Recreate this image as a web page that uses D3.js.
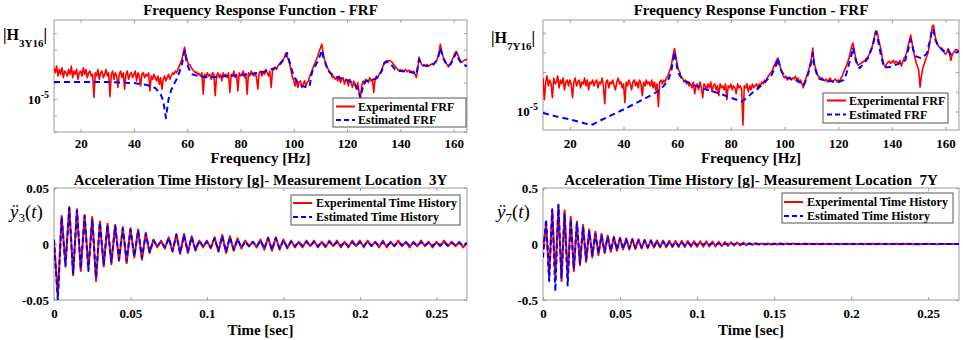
<!DOCTYPE html>
<html>
<head>
<meta charset="utf-8">
<script src="https://cdn.jsdelivr.net/npm/d3@7"></script>
<style>
  body { margin: 0; background: #fff; }
  text { font-family: "Liberation Serif", "Times New Roman", serif; }
</style>
</head>
<body>
<script>
// ---------------- data ----------------
// FRF sampled every 0.5 Hz from 10 to 165 Hz, values stored as log10|H|
const frfFreq = d3.range(10, 165.25, 0.5);

const h3y16Exp = [
  -3.1,-3.4,-3.0,-3.6,-3.2,-3.5,-3.1,-3.7,-3.3,-3.4,
  -3.6,-3.2,-3.5,-3.0,-3.7,-3.3,-3.5,-3.2,-3.8,-3.4,
  -3.3,-3.6,-3.1,-3.5,-3.2,-3.7,-3.4,-3.3,-3.6,-3.5,
  -4.9,-3.4,-3.6,-3.2,-3.8,-3.4,-3.3,-3.7,-3.5,-3.2,
  -3.6,-3.4,-4.85,-3.5,-3.3,-3.8,-3.4,-3.6,-4.3,-3.5,
  -3.3,-3.7,-3.4,-4.4,-3.5,-3.3,-3.8,-3.5,-3.4,-3.7,
  -3.5,-3.3,-3.9,-3.4,-3.6,-4.2,-3.5,-3.4,-3.7,-3.5,
  -3.6,-3.4,-4.5,-3.6,-3.8,-3.5,-3.7,-3.9,-3.6,-4.1,
  -3.7,-4.4,-3.8,-3.6,-3.9,-3.7,-3.5,-3.8,-3.6,-3.4,
  -3.5,-3.3,-3.4,-3.2,-3.0,-2.8,-2.6,-2.2,-1.85,-2.3,
  -2.65,-2.9,-2.9,-3.1,-3.2,-3.3,-3.4,-3.35,-3.5,-3.45,
  -3.6,-3.4,-4.7,-3.5,-3.7,-3.4,-3.6,-3.5,-3.8,-3.4,
  -3.5,-4.8,-3.6,-3.4,-3.7,-3.5,-3.9,-3.4,-3.6,-3.5,
  -3.7,-3.4,-4.6,-3.5,-3.6,-3.3,-3.7,-3.5,-4.5,-3.4,
  -3.6,-3.5,-3.3,-3.7,-3.5,-4.7,-3.4,-3.6,-3.3,-3.5,
  -3.6,-3.4,-3.7,-4.4,-3.4,-3.3,-3.6,-3.4,-3.5,-3.2,
  -3.4,-3.6,-3.3,-4.3,-3.3,-3.2,-3.1,-3.2,-3.0,-2.9,
  -2.8,-2.7,-2.6,-2.45,-2.2,-2.4,-2.6,-2.9,-3.3,-3.7,
  -3.9,-4.2,-3.8,-4.3,-4.0,-3.9,-4.3,-4.1,-3.9,-4.2,
  -4.0,-3.9,-3.6,-3.4,-3.2,-3.0,-2.8,-2.6,-2.4,-2.1,
  -1.9,-1.67,-2.2,-2.6,-2.8,-3.1,-3.2,-3.4,-3.5,-3.7,
  -3.6,-3.8,-3.7,-3.9,-3.6,-4.0,-3.8,-3.7,-4.1,-3.8,
  -3.9,-4.2,-3.8,-4.0,-4.3,-3.9,-4.1,-4.4,-4.0,-4.6,
  -4.9,-4.2,-3.9,-4.1,-3.8,-3.9,-4.0,-3.7,-3.9,-3.8,
  -4.6,-3.8,-3.6,-3.7,-3.5,-3.4,-3.2,-3.0,-2.8,-2.7,
  -2.65,-2.7,-2.65,-2.7,-2.8,-2.9,-3.0,-3.1,-3.2,-3.3,
  -3.2,-3.3,-3.25,-3.3,-3.2,-3.35,-3.25,-3.3,-3.3,-3.4,
  -3.3,-3.5,-3.7,-3.2,-2.45,-2.7,-2.9,-3.0,-2.95,-3.0,
  -2.9,-3.0,-2.95,-2.9,-2.85,-2.9,-2.8,-2.7,-2.5,-2.2,
  -1.67,-2.1,-2.4,-2.6,-2.8,-2.9,-3.05,-2.9,-2.8,-2.6,
  -2.4,-2.2,-2.1,-2.3,-2.5,-2.7,-2.75,-2.7,-2.65,-2.6,
  -2.6
];
const h3y16EstFreq = [10,20,30,40,45,48,50,51,52,53,54,55,56,57,58,59,60,61,62,65,
  70,75,80,85,90,93,95,97,97.5,98,99,100,101,103,105,106,106.5,107,108,109,
  110,110.5,111,112,113,115,118,121,123,124,125,126,127,129,131,133,134,135,136,137,
  138,140,143,145,146,147,148,150,152,154,155,156,157,158,159,160,161,162,163,165];
const h3y16EstExp = [-3.97,-3.97,-3.97,-4.03,-4.15,-4.33,-4.7,-5.1,-6.15,-5.0,
  -4.45,-4.1,-3.8,-3.4,-2.9,-2.05,-2.9,-3.3,-3.5,-3.65,
  -3.67,-3.6,-3.55,-3.45,-3.3,-3.1,-2.85,-2.45,-2.2,-2.5,
  -3.1,-3.6,-3.9,-4.2,-4.3,-4.2,-3.6,-3.3,-3.0,-2.7,
  -2.3,-2.03,-2.4,-2.9,-3.3,-3.6,-3.75,-3.9,-4.15,-4.4,
  -4.94,-4.2,-3.9,-3.85,-3.75,-3.3,-2.8,-2.75,-2.8,-3.0,
  -3.2,-3.3,-3.35,-3.4,-3.5,-2.6,-2.9,-3.0,-2.95,-2.6,
  -1.9,-2.5,-2.8,-3.0,-2.85,-2.5,-2.2,-2.6,-2.85,-3.0];

const h7y16Exp = [
  -3.3,-4.4,-3.5,-3.2,-3.7,-3.4,-3.6,-4.3,-3.3,-3.6,
  -3.5,-3.2,-3.8,-3.4,-3.6,-3.3,-3.9,-3.5,-3.4,-3.7,
  -3.4,-3.6,-4.3,-3.5,-3.3,-3.7,-3.5,-3.4,-3.8,-3.5,
  -3.6,-3.3,-3.7,-3.4,-3.9,-3.5,-3.6,-3.4,-3.7,-3.5,
  -3.4,-3.8,-3.5,-3.6,-3.3,-3.7,-4.6,-3.5,-3.4,-3.8,
  -3.5,-3.6,-3.4,-3.7,-3.9,-3.5,-3.3,-3.6,-3.5,-3.8,
  -3.6,-4.55,-3.5,-3.7,-3.4,-3.6,-3.9,-3.5,-3.4,-3.7,
  -3.5,-3.8,-3.4,-3.6,-4.2,-3.5,-3.7,-3.4,-3.6,-3.5,
  -3.7,-3.4,-3.8,-3.5,-3.9,-3.6,-4.75,-3.5,-3.4,-3.6,
  -3.4,-3.5,-3.3,-3.2,-3.0,-2.8,-2.5,-2.1,-1.8,-2.2,
  -2.6,-2.9,-3.0,-3.3,-3.3,-3.5,-3.4,-3.6,-3.5,-3.7,
  -3.6,-3.8,-3.5,-4.1,-3.7,-3.6,-3.9,-3.5,-3.8,-4.3,
  -3.6,-3.7,-3.9,-3.6,-3.8,-3.5,-4.0,-3.7,-3.6,-3.9,
  -3.7,-4.2,-3.6,-3.8,-3.7,-3.9,-3.6,-4.4,-3.7,-3.8,
  -3.6,-3.9,-3.7,-3.8,-4.1,-3.6,-3.8,-3.7,-3.9,-5.69,
  -3.7,-3.8,-3.6,-4.0,-3.7,-3.9,-3.6,-3.8,-3.7,-3.6,
  -3.8,-3.6,-3.7,-3.5,-3.6,-3.4,-3.5,-3.3,-3.2,-3.1,
  -3.0,-2.9,-2.7,-2.55,-2.4,-2.28,-2.5,-2.8,-3.0,-3.2,
  -3.3,-3.2,-3.4,-3.3,-3.25,-3.4,-3.3,-3.35,-3.2,-3.4,
  -3.3,-3.5,-3.4,-3.6,-3.8,-3.5,-3.3,-3.1,-2.9,-2.6,
  -2.3,-1.78,-2.5,-2.8,-3.0,-3.2,-3.25,-3.35,-3.3,-3.4,
  -3.45,-3.35,-3.5,-3.4,-3.3,-3.45,-3.5,-3.4,-3.35,-3.5,
  -3.4,-3.5,-3.3,-3.2,-3.0,-2.85,-2.7,-2.5,-2.3,-2.0,
  -1.7,-1.52,-1.9,-2.3,-2.55,-2.65,-2.6,-2.55,-2.5,-2.45,
  -2.4,-2.3,-2.25,-2.1,-2.0,-1.8,-1.5,-1.2,-0.91,-0.95,
  -1.3,-1.6,-1.9,-2.3,-2.6,-2.75,-2.6,-2.5,-2.45,-2.55,
  -2.5,-2.4,-2.55,-2.45,-2.5,-2.6,-2.4,-2.7,-2.5,-2.3,
  -2.2,-2.0,-1.7,-1.4,-1.12,-1.5,-1.9,-2.2,-2.5,-2.7,
  -2.9,-3.76,-3.2,-2.8,-2.6,-2.4,-2.2,-2.0,-1.6,-1.2,
  -0.7,-0.61,-1.1,-1.4,-1.6,-1.7,-1.78,-1.85,-1.95,-2.0,
  -2.1,-2.0,-1.8,-2.1,-2.4,-2.1,-2.0,-1.9,-1.85,-1.9,
  -1.9
];
const h7y16EstFreq = [10,15,20,25,28,33,40,45,50,53,55,57,58,59,60,61,63,66,70,75,
  80,84,86,88,90,93,95,97,97.5,98,99,101,104,106,107,108,109,110,110.5,111,
  112,113,116,120,122,123,124,125,125.5,126,127,128,129,131,133,134,135,136,137,139,
  142,145,146,147,148,149,151,153,154,155,155.5,156,157,158,160,161,162,164,165];
const h7y16EstExp = [-5.08,-5.25,-5.4,-5.58,-5.69,-5.35,-4.9,-4.55,-4.2,-3.95,
  -3.7,-3.3,-2.8,-1.98,-2.8,-3.2,-3.45,-3.65,-3.85,-4.05,
  -4.3,-4.5,-4.3,-4.05,-3.85,-3.45,-3.2,-2.6,-2.3,-2.6,
  -3.0,-3.3,-3.4,-3.55,-3.7,-3.4,-3.0,-2.5,-2.03,-2.6,
  -3.1,-3.35,-3.45,-3.5,-3.4,-3.1,-2.6,-2.1,-1.75,-2.1,
  -2.6,-2.8,-2.65,-2.3,-1.6,-0.95,-1.5,-2.2,-2.75,-2.75,
  -2.6,-2.4,-1.9,-1.35,-1.9,-2.2,-2.3,-2.05,-1.5,-0.85,
  -0.8,-1.3,-1.6,-1.75,-2.0,-1.9,-2.1,-2.0,-1.95];

// acceleration time histories [g], uniform time steps
const dt3Y = 0.0025;
const acc3YExp = [
  0.002,-0.046,0.025,-0.018,0.033,-0.028,0.031,-0.024,0.026,-0.022,
  0.024,-0.033,0.020,-0.020,0.018,-0.018,0.017,-0.015,0.015,-0.017,
  0.014,-0.012,0.013,-0.014,0.010,-0.008,0.004,-0.003,0.003,-0.004,
  0.006,-0.007,0.009,-0.009,0.009,-0.008,0.007,-0.006,0.003,-0.003,
  0.003,-0.004,0.006,-0.007,0.008,-0.008,0.007,-0.006,0.005,-0.004,
  0.003,-0.002,0.002,-0.003,0.004,-0.005,0.006,-0.006,0.006,-0.005,
  0.004,-0.004,0.003,-0.003,0.002,-0.003,0.003,-0.002,0.003,-0.003,
  0.002,-0.003,0.003,-0.002,0.003,-0.003,0.002,-0.003,0.003,-0.002,
  0.003,-0.003,0.003,-0.002,0.002,-0.003,0.003,-0.003,0.002,-0.002,
  0.003,-0.002,0.002,-0.003,0.002,-0.002,0.003,-0.002,0.002,-0.003,
  0.002,-0.002,0.003,-0.002,0.002,-0.002,0.002,-0.003,0.001
];
const acc3YEst = [
  0.004,-0.050,0.024,-0.020,0.032,-0.026,0.030,-0.022,0.025,-0.024,
  0.022,-0.030,0.019,-0.018,0.017,-0.016,0.016,-0.014,0.014,-0.015,
  0.013,-0.011,0.012,-0.012,0.009,-0.007,0.003,-0.002,0.002,-0.003,
  0.005,-0.006,0.008,-0.008,0.008,-0.007,0.006,-0.005,0.003,-0.002,
  0.002,-0.003,0.005,-0.006,0.007,-0.007,0.006,-0.005,0.004,-0.003,
  0.002,-0.002,0.002,-0.002,0.003,-0.004,0.005,-0.005,0.005,-0.004,
  0.003,-0.003,0.002,-0.002,0.0015,-0.0015,0.002,-0.0015,0.0015,-0.002,
  0.0015,-0.0015,0.002,-0.0015,0.0015,-0.0015,0.0015,-0.002,0.0015,-0.0015,
  0.0015,-0.0015,0.002,-0.0015,0.0015,-0.0015,0.0015,-0.0015,0.001,-0.0015,
  0.0015,-0.001,0.0015,-0.0015,0.001,-0.0015,0.0015,-0.001,0.001,-0.0015,
  0.001,-0.001,0.0015,-0.001,0.001,-0.001,0.001,-0.0015,0.001
];

const dt7Y = 0.002;
const acc7YExp = [
  -0.05,0.18,-0.28,0.30,-0.30,0.34,-0.33,0.30,-0.30,0.24,
  -0.24,0.20,-0.19,0.17,-0.16,0.13,-0.12,0.11,-0.10,0.09,
  -0.08,0.075,-0.07,0.065,-0.06,0.055,-0.05,0.05,-0.048,0.046,
  -0.045,0.042,-0.040,0.038,-0.036,0.035,-0.033,0.032,-0.031,0.030,
  -0.030,0.029,-0.028,0.028,-0.027,0.027,-0.026,0.026,-0.025,0.025,
  -0.024,0.024,-0.023,0.023,-0.022,0.022,-0.021,0.020,-0.019,0.018,
  -0.017,0.016,-0.015,0.014,-0.013,0.012,-0.010,0.009,-0.008,0.007,
  -0.006,0.005,-0.005,0.005,-0.004,0.005,-0.004,0.004,-0.004,0.004,
  -0.003,0.004,-0.003,0.003,-0.003,0.004,-0.003,0.003,-0.003,0.003,
  -0.003,0.003,-0.002,0.003,-0.003,0.002,-0.003,0.002,-0.002,0.003,
  -0.002,0.002,-0.002,0.002,-0.002,0.003,-0.002,0.002,-0.002,0.002,
  -0.002,0.002,-0.002,0.002,-0.001,0.002,-0.002,0.002,-0.001,0.002,
  -0.002,0.001,-0.002,0.001,-0.001,0.002,-0.001,0.001,-0.002,0.001,
  -0.001,0.001,-0.001,0.001,-0.001,0.001
];
const acc7YEst = [
  -0.12,0.22,-0.33,0.31,-0.42,0.35,-0.30,0.27,-0.37,0.22,
  -0.22,0.18,-0.17,0.15,-0.14,0.11,-0.10,0.09,-0.085,0.075,
  -0.07,0.065,-0.06,0.055,-0.05,0.048,-0.045,0.042,-0.04,0.037,
  -0.035,0.033,-0.031,0.03,-0.028,0.027,-0.025,0.024,-0.023,0.022,
  -0.02,0.019,-0.017,0.016,-0.015,0.013,-0.012,0.011,-0.01,0.009,
  -0.008,0.007,-0.006,0.006,-0.005,0.005,-0.004,0.004,-0.003,0.003,
  -0.003,0.003,-0.002,0.002,-0.002,0.002,-0.002,0.002,-0.002,0.002,
  -0.002,0.002,-0.002,0.001,-0.002,0.001,-0.001,0.002,-0.001,0.001,
  -0.001,0.001,-0.001,0.001,-0.001,0.001,-0.001,0.001,-0.001,0.001,
  -0.001,0.001,-0.001,0.001,-0.001,0.001,-0.001,0.001,-0.001,0.001,
  -0.001,0.001,-0.001,0.001,-0.001,0.001,-0.001,0.001,-0.001,0.001,
  -0.001,0.001,-0.001,0.001,-0.001,0.001,-0.001,0.001,-0.001,0.001,
  -0.001,0.001,-0.001,0.001,-0.001,0.001,-0.001,0.001,-0.001,0.001,
  -0.001,0.001,-0.001,0.001,-0.001,0.001
];

const freqTicks = [20, 40, 60, 80, 100, 120, 140, 160];
const timeTicks = [0, 0.05, 0.1, 0.15, 0.2, 0.25];
const decadeTicks = [1e-7, 1e-6, 1e-5, 1e-4, 1e-3, 1e-2, 1e-1];
const acc3Ticks = [-0.05, 0, 0.05];
const acc7Ticks = [-0.5, 0, 0.5];

// ---------------- drawing ----------------
const svg = d3.select("body").append("svg").attr("width", 963).attr("height", 340);

const red = "#ff0000", blue = "#0000ff", grey = "#9b9b9b";

function makePanel(id, box, x, y, xTicks, yTicks, xFmt, yFmt, xPad) {
  const w = box.right - box.left, h = box.bottom - box.top;
  x.range([0, w]);
  y.range([h, 0]);
  const g = svg.append("g").attr("transform", `translate(${box.left},${box.top})`);
  g.append("clipPath").attr("id", id).append("rect").attr("width", w).attr("height", h);

  g.append("g").attr("transform", `translate(0,${h})`)
    .call(d3.axisBottom(x).tickValues(xTicks).tickSize(-3).tickPadding(xPad).tickFormat(xFmt));
  g.append("g")
    .call(d3.axisTop(x).tickValues(xTicks).tickSize(-3).tickFormat(""));
  g.append("g").attr("class", "yleft")
    .call(d3.axisLeft(y).tickValues(yTicks).tickSize(-3).tickPadding(5).tickFormat(yFmt));
  g.append("g").attr("transform", `translate(${w},0)`)
    .call(d3.axisRight(y).tickValues(yTicks).tickSize(-3).tickFormat(""));

  g.selectAll(".domain").remove();
  g.selectAll(".tick line").attr("stroke", grey);
  g.selectAll(".tick text")
    .attr("font-size", 13).attr("font-weight", "bold").attr("fill", "#000");

  g.append("rect").attr("width", w).attr("height", h)
    .attr("fill", "none").attr("stroke", grey).attr("stroke-width", 1);

  g.plot = g.append("g").attr("clip-path", `url(#${id})`);
  g.w = w; g.h = h;
  return g;
}

function addLine(g, data, x, y, color, width, dash) {
  g.plot.append("path")
    .datum(data)
    .attr("fill", "none")
    .attr("stroke", color)
    .attr("stroke-width", width)
    .attr("stroke-dasharray", dash || null)
    .attr("stroke-linejoin", "round")
    .attr("d", d3.line().x(d => x(d[0])).y(d => y(d[1])));
}

function addText(x, y, str, size, anchor) {
  return svg.append("text").attr("x", x).attr("y", y)
    .attr("font-size", size).attr("font-weight", "bold")
    .attr("text-anchor", anchor || "middle").text(str);
}

function addLegend(b, labels) {
  svg.append("rect").attr("x", b.x).attr("y", b.y).attr("width", b.w).attr("height", b.h)
    .attr("fill", "#fff").attr("stroke", "#555").attr("stroke-width", 1);
  const styles = [{c: red, d: null}, {c: blue, d: "5,3"}];
  labels.forEach((lab, i) => {
    const ry = b.rows[i];
    svg.append("line").attr("x1", b.lx).attr("x2", b.lx + 19).attr("y1", ry).attr("y2", ry)
      .attr("stroke", styles[i].c).attr("stroke-width", 2).attr("stroke-dasharray", styles[i].d);
    addText(b.tx, ry + 4, lab, 12, "start");
  });
}

function logLabel(g) {
  g.select(".yleft").selectAll(".tick text").each(function (d) {
    if (Math.abs(Math.log10(d) + 5) < 1e-6) {
      const t = d3.select(this).text("10");
      t.append("tspan").attr("dy", -6).attr("font-size", 10).text("-5");
    }
  });
}

// ---- panel 1 : FRF H3Y16 ----
{
  const box = {left: 54, right: 467, top: 20, bottom: 132};
  const x = d3.scaleLinear().domain([10, 165]);
  const y = d3.scaleLog().domain([1e-7, Math.pow(10, -0.2)]);
  const g = makePanel("c1", box, x, y, freqTicks, decadeTicks, d3.format("d"), () => "", 7);
  logLabel(g);
  addLine(g, frfFreq.map((f, i) => [f, Math.pow(10, h3y16Exp[i])]), x, y, red, 1.6);
  addLine(g, h3y16EstFreq.map((f, i) => [f, Math.pow(10, h3y16EstExp[i])]), x, y, blue, 2, "6,4");
  addText((box.left + box.right) / 2, 15, "Frequency Response Function - FRF", 15);
  addText((box.left + box.right) / 2, 163, "Frequency [Hz]", 15);
  const lab = svg.append("text").attr("x", 3).attr("y", 40).attr("font-size", 16).attr("font-weight", "bold");
  lab.append("tspan").text("|H");
  lab.append("tspan").attr("dy", 7).attr("font-size", 11).text("3Y16");
  lab.append("tspan").attr("dy", -7).text("|");
  addLegend({x: 333, y: 98, w: 133, h: 29, rows: [106.5, 120], lx: 336, tx: 358},
    ["Experimental FRF", "Estimated FRF"]);
}

// ---- panel 2 : FRF H7Y16 ----
{
  const box = {left: 543, right: 959, top: 20, bottom: 130};
  const x = d3.scaleLinear().domain([10, 165]);
  const y = d3.scaleLog().domain([Math.pow(10, -5.94), Math.pow(10, -0.355)]);
  const g = makePanel("c2", box, x, y, freqTicks, decadeTicks.filter(v => v > 2e-6), d3.format("d"), () => "", 9);
  logLabel(g);
  addLine(g, frfFreq.map((f, i) => [f, Math.pow(10, h7y16Exp[i])]), x, y, red, 1.6);
  addLine(g, h7y16EstFreq.map((f, i) => [f, Math.pow(10, h7y16EstExp[i])]), x, y, blue, 2, "6,4");
  addText((box.left + box.right) / 2, 15, "Frequency Response Function - FRF", 15);
  addText((box.left + box.right) / 2, 163, "Frequency [Hz]", 15);
  const lab = svg.append("text").attr("x", 491).attr("y", 43).attr("font-size", 16).attr("font-weight", "bold");
  lab.append("tspan").text("|H");
  lab.append("tspan").attr("dy", 7).attr("font-size", 11).text("7Y16");
  lab.append("tspan").attr("dy", -7).text("|");
  addLegend({x: 823, y: 93, w: 125, h: 30, rows: [100.5, 114.5], lx: 827, tx: 849},
    ["Experimental FRF", "Estimated FRF"]);
}

function accLabel(x0, sub) {
  const t = svg.append("text").attr("x", x0).attr("y", 218).attr("font-size", 19);
  t.append("tspan").attr("font-style", "italic").text("ÿ");
  t.append("tspan").attr("dy", 4).attr("font-size", 13).text(sub);
  t.append("tspan").attr("dy", -4).text("(");
  t.append("tspan").attr("font-style", "italic").text("t");
  t.append("tspan").text(")");
}

// ---- panel 3 : acceleration 3Y ----
{
  const box = {left: 54, right: 467, top: 188, bottom: 300};
  const x = d3.scaleLinear().domain([0, 0.27]);
  const y = d3.scaleLinear().domain([-0.05, 0.05]);
  const g = makePanel("c3", box, x, y, timeTicks, acc3Ticks, d => d === 0 ? "0" : String(d), d => d === 0 ? "0" : String(d), 9);
  addLine(g, acc3YExp.map((v, i) => [i * dt3Y, v]), x, y, red, 2);
  addLine(g, acc3YEst.map((v, i) => [i * dt3Y, v]), x, y, blue, 2, "5,3");
  addText((box.left + box.right) / 2, 185, "Acceleration Time History [g]- Measurement Location  3Y", 15).attr("xml:space", "preserve");
  addText((box.left + box.right) / 2, 335, "Time [sec]", 15);
  accLabel(10, "3");
  addLegend({x: 291, y: 195, w: 169, h: 30, rows: [203, 217], lx: 293, tx: 316},
    ["Experimental Time History", "Estimated Time History"]);
}

// ---- panel 4 : acceleration 7Y ----
{
  const box = {left: 543, right: 959, top: 188, bottom: 300};
  const x = d3.scaleLinear().domain([0, 0.27]);
  const y = d3.scaleLinear().domain([-0.5, 0.5]);
  const g = makePanel("c4", box, x, y, timeTicks, acc7Ticks, d => d === 0 ? "0" : String(d), d => d === 0 ? "0" : String(d), 9);
  addLine(g, acc7YExp.map((v, i) => [i * dt7Y, v]), x, y, red, 2);
  addLine(g, acc7YEst.map((v, i) => [i * dt7Y, v]), x, y, blue, 2, "5,3");
  addText((box.left + box.right) / 2, 185, "Acceleration Time History [g]- Measurement Location  7Y", 15).attr("xml:space", "preserve");
  addText((box.left + box.right) / 2, 335, "Time [sec]", 15);
  accLabel(497, "7");
  addLegend({x: 782, y: 193, w: 171, h: 30, rows: [202, 216], lx: 784, tx: 807},
    ["Experimental Time History", "Estimated Time History"]);
}
</script>
</body>
</html>
